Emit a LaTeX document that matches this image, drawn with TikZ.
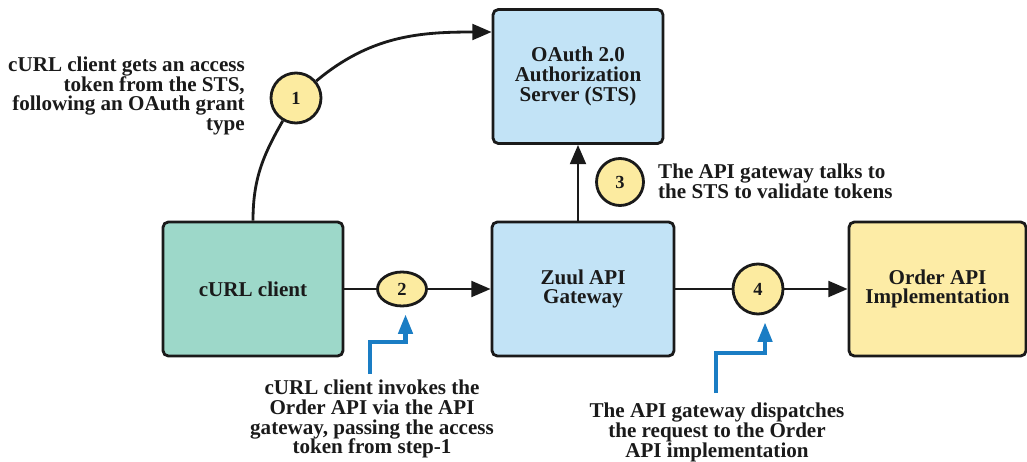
\documentclass[tikz,border=0pt]{standalone}
\usepackage{fontspec}
\setmainfont{Liberation Serif}
\usetikzlibrary{arrows.meta,shapes.geometric}

\definecolor{boxline}{HTML}{1A1A1A}
\definecolor{clientfill}{HTML}{9DD8C9}
\definecolor{serverfill}{HTML}{C2E3F6}
\definecolor{orderfill}{HTML}{FDECA6}
\definecolor{dotfill}{HTML}{FCEBA0}
\definecolor{callblue}{HTML}{1A7DC4}

\begin{document}
\begin{tikzpicture}[x=0.02cm, y=-0.02cm,
    every node/.style={font=\fontsize{12}{11.2}\selectfont\bfseries, text=boxline},
    box/.style={draw=boxline, line width=1.6pt, rounded corners=3pt, align=center,
        minimum height=2.68cm},
    stepdot/.style={circle, draw=boxline, line width=1.6pt, fill=dotfill,
        minimum size=0.94cm, inner sep=0pt, font=\fontsize{10.5}{11}\selectfont\bfseries},
    flow/.style={draw=boxline, line width=1.6pt, -{Triangle[length=11pt,width=9pt]}},
    plain/.style={draw=boxline, line width=1.6pt},
    callout/.style={draw=callblue, line width=2.3pt,
        -{Triangle[length=11pt,width=8pt]}, shorten >=4pt},
    note/.style={align=center}]
    \useasboundingbox (0,0) rectangle (1027,462);

    % boxes
    \node[box, fill=clientfill, minimum width=3.6cm] (curl) at (253,289) {cURL client};
    \node[box, fill=serverfill, minimum width=3.64cm] (zuul) at (583,289) {Zuul API\\Gateway};
    \node[box, fill=serverfill, minimum width=3.4cm] (oauth) at (578,76.5) {OAuth 2.0\\Authorization\\Server (STS)};
    \node[box, fill=orderfill, minimum width=3.54cm] (order) at (937.5,289) {Order API\\Implementation};

    % numbered steps
    \node[stepdot, minimum size=1cm] (s1) at (296,98) {1};
    \node[stepdot, ellipse, minimum width=0.98cm, minimum height=0.68cm] (s2) at (402,289) {2};
    \node[stepdot] (s3) at (620,182) {3};
    \node[stepdot, minimum size=1cm] (s4) at (758,289) {4};

    % connectors
    \draw[plain] (curl.north) to[out=90, in=240] (s1);
    \draw[flow] (s1) to[out=40, in=180] ([yshift=0.89cm]oauth.west);
    \draw[plain] (curl.east) -- (s2);
    \draw[flow] (s2) -- (zuul.west);
    \draw[flow] (zuul.north -| oauth.south) -- (oauth.south);
    \draw[plain] (zuul.east) -- (s4);
    \draw[flow] (s4) -- (order.west);

    % notes
    \node[anchor=east, align=right] (t1) at (251,96) {cURL client gets an access\\token from the STS,\\following an OAuth grant\\type};
    \node[anchor=west, align=left] (t3) at (652,181) {The API gateway talks to\\the STS to validate tokens};
    \node[note, anchor=north] (t2) at (372,374) {cURL client invokes the\\Order API via the API\\gateway, passing the access\\token from step-1};
    \node[note, anchor=north] (t4) at (717,397) {The API gateway dispatches\\the request to the Order\\API implementation};

    % callouts
    \coordinate (b2) at (370,374);
    \coordinate (b4) at (716,393);
    \draw[callout] (b2) -- ++(0,-32) -| ([xshift=2pt]s2.south);
    \draw[callout] (b4) -- ++(0,-40) -| ([xshift=4pt]s4.south);
\end{tikzpicture}
\end{document}
